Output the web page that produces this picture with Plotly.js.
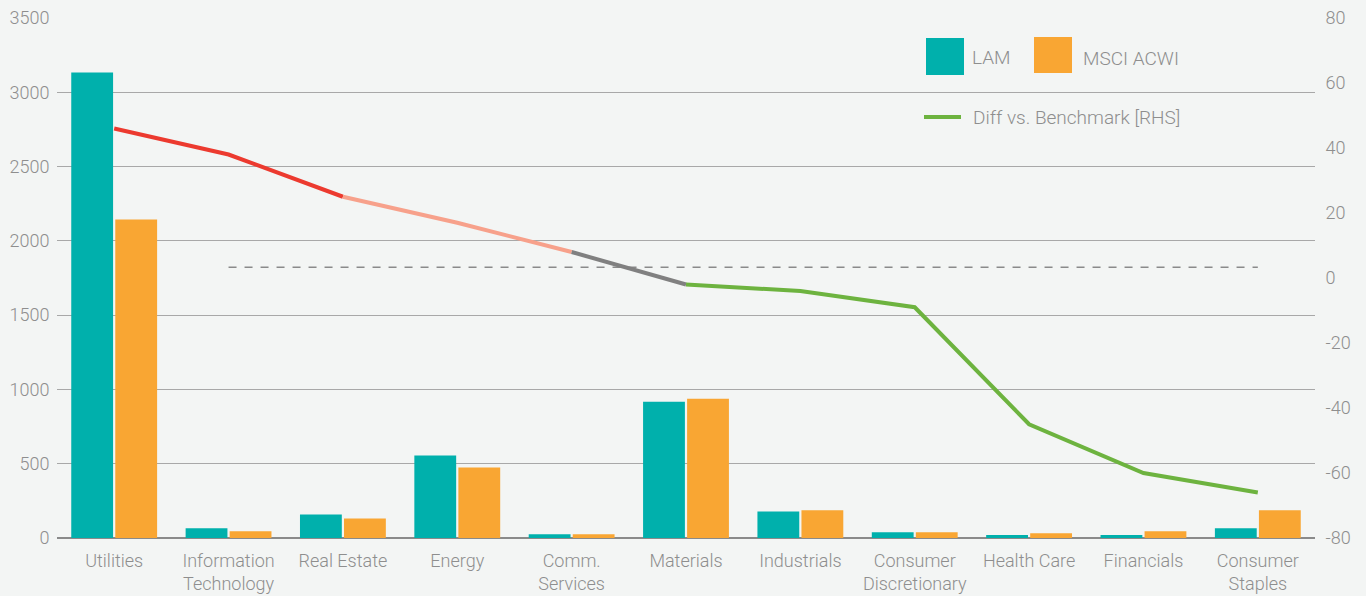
<!DOCTYPE html>
<html>
<head>
<meta charset="utf-8">
<script src="https://cdn.plot.ly/plotly-3.0.1.min.js"></script>
<style>
  html, body { margin: 0; padding: 0; background: #f3f5f4; }
  #chart { width: 1366px; height: 596px; }
</style>
</head>
<body>
<div id="chart"></div>
<script>
// Sector labels (line breaks as printed on the axis)
const sectors = [
  "Utilities", "Information<br>Technology", "Real Estate", "Energy",
  "Comm.<br>Services", "Materials", "Industrials", "Consumer<br>Discretionary",
  "Health Care", "Financials", "Consumer<br>Staples"
];

// Left axis values
const lamValues  = [3134, 65, 159, 555, 25, 917, 179, 38, 20, 20, 65];
const msciValues = [2144, 45, 132, 475, 25, 938, 186, 38, 32, 45, 186];

// Right axis: difference vs. benchmark
const diffValues = [46, 38, 25, 17, 8, -2, -4, -9, -45, -60, -66];

// Axis tick values and labels
const leftTicks = [0, 500, 1000, 1500, 2000, 2500, 3000, 3500];
const rightTicks = [-80, -60, -40, -20, 0, 20, 40, 60, 80];
const rightTickText = ["-80", "-60", "-40", "-20", "0", "20", "40", "60", "80"];

// Colour bands of the difference line: [first index, last index, colour]
const diffSegments = [
  [0, 2, "#ec3a2f"],
  [2, 4, "#f7a18b"],
  [4, 5, "#808080"],
  [5, 10, "#6db33f"]
];

// Dashed reference level on the right axis
const refLevel = 3.3;
const refFrom = 1, refTo = 10;

const tealColor = "#00b0ac";
const orangeColor = "#f9a633";
const textColor = "#8e8e8e";
const fontFamily = "Roboto, 'Liberation Sans', Arial, sans-serif";

const traces = [
  {
    type: "bar", name: "LAM", x: sectors, y: lamValues,
    marker: { color: tealColor }
  },
  {
    type: "bar", name: "MSCI ACWI", x: sectors, y: msciValues,
    marker: { color: orangeColor }
  },
  {
    type: "scatter", mode: "lines", yaxis: "y2",
    x: [sectors[refFrom], sectors[refTo]], y: [refLevel, refLevel],
    line: { color: "#8a8a8a", width: 1.5, dash: "8px,8px" }
  }
];

diffSegments.forEach(([a, b, col]) => {
  traces.push({
    type: "scatter", mode: "lines", yaxis: "y2",
    x: sectors.slice(a, b + 1), y: diffValues.slice(a, b + 1),
    line: { color: col, width: 4 },
    name: "Diff vs. Benchmark [RHS]"
  });
});

// Legend drawn as shapes + labels in paper coordinates
const W = 1366, H = 596, ml = 57, mr = 51, mt = 18, mb = 58;
const pw = W - ml - mr, ph = H - mt - mb;
const px = v => (v - ml) / pw;
const py = v => 1 - (v - mt) / ph;

const shapes = [
  { type: "rect", xref: "paper", yref: "paper", x0: px(926), x1: px(964), y0: py(75), y1: py(38),
    fillcolor: tealColor, line: { width: 0 } },
  { type: "rect", xref: "paper", yref: "paper", x0: px(1034), x1: px(1072), y0: py(73), y1: py(37),
    fillcolor: orangeColor, line: { width: 0 } },
  { type: "line", xref: "paper", yref: "paper", x0: px(924), x1: px(961), y0: py(117), y1: py(117),
    line: { color: "#6db33f", width: 4 } }
];

const legendFont = { family: fontFamily, size: 19, color: textColor, weight: 300 };
const annotations = [
  { xref: "paper", yref: "paper", x: px(970), y: py(58), text: "LAM", showarrow: false,
    xanchor: "left", yanchor: "middle", font: legendFont },
  { xref: "paper", yref: "paper", x: px(1081), y: py(59), text: "MSCI ACWI", showarrow: false,
    xanchor: "left", yanchor: "middle", font: legendFont },
  { xref: "paper", yref: "paper", x: px(971), y: py(117), text: "Diff vs. Benchmark [RHS]", showarrow: false,
    xanchor: "left", yanchor: "middle", font: legendFont }
];

const tickFont = { family: fontFamily, size: 18, color: textColor, weight: 300 };

const layout = {
  width: W, height: H,
  margin: { l: ml, r: mr, t: mt, b: mb, pad: 0 },
  paper_bgcolor: "#f3f5f4",
  plot_bgcolor: "#f3f5f4",
  showlegend: false,
  hovermode: false,
  barmode: "group",
  bargap: 0.23,
  bargroupgap: 0.05,
  xaxis: {
    type: "category",
    tickfont: tickFont,
    showgrid: false,
    showline: false,
    ticks: "outside",
    ticklen: 6,
    tickcolor: "rgba(0,0,0,0)",
    fixedrange: true
  },
  yaxis: {
    range: [0, 3500],
    tickvals: leftTicks,
    tickfont: tickFont,
    showgrid: true,
    gridcolor: "#a8a8a8",
    gridwidth: 1,
    zeroline: true,
    zerolinecolor: "#8a8a8a",
    zerolinewidth: 2,
    ticks: "outside",
    ticklen: 3,
    tickcolor: "rgba(0,0,0,0)",
    fixedrange: true
  },
  yaxis2: {
    overlaying: "y",
    side: "right",
    range: [-80, 80],
    tickvals: rightTicks,
    ticktext: rightTickText,
    tickfont: tickFont,
    showgrid: false,
    zeroline: false,
    ticks: "outside",
    ticklen: 6,
    tickcolor: "rgba(0,0,0,0)",
    fixedrange: true
  },
  shapes: shapes,
  annotations: annotations,
  font: { family: fontFamily, color: textColor }
};

Plotly.newPlot("chart", traces, layout, { displayModeBar: false, staticPlot: true });
</script>
</body>
</html>
